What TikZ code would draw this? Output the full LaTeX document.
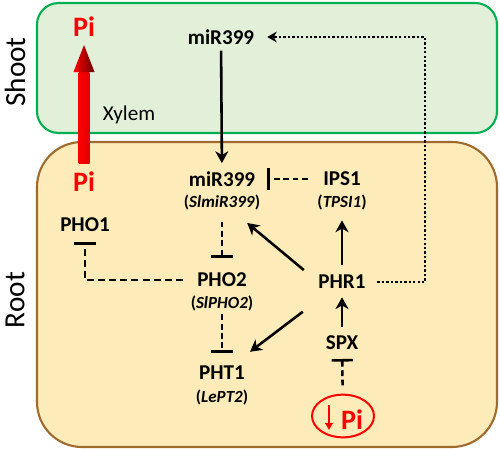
\documentclass[tikz,border=0pt]{standalone}
\usepackage{fontspec}
\setmainfont{Carlito}
\usetikzlibrary{arrows.meta,shapes.geometric,calc}
\definecolor{shootfill}{HTML}{E2F0D9}
\definecolor{shootline}{HTML}{00B050}
\definecolor{rootfill}{HTML}{FEEBBA}
\definecolor{rootline}{HTML}{9E6B2E}
\begin{document}
\begin{tikzpicture}[x=0.03cm,y=-0.03cm,
    lbl/.style={font=\fontsize{18}{20}\selectfont\bfseries, inner sep=0pt},
    sub/.style={font=\fontsize{14.5}{16}\selectfont\bfseries, inner sep=0pt},
    phos/.style={font=\fontsize{24}{26}\selectfont\bfseries, text=red, inner sep=0pt},
    organ/.style={font=\fontsize{25}{28}\selectfont, rotate=90, inner sep=0pt},
    act/.style={line width=2.2pt, -{Stealth[length=10pt,width=11pt,inset=3pt]}},
    inh/.style={line width=2.2pt, dash pattern=on 5pt off 3pt, -{Bar[width=18pt]}},
    mv/.style={line width=2.4pt, dash pattern=on 2pt off 1.8pt, -{Stealth[length=8pt,width=9pt,inset=2.5pt]}}]
    \useasboundingbox (0,0) rectangle (500,449);
    \draw[shootline, fill=shootfill, line width=1.8pt, rounded corners=0.65cm] (37,3) rectangle (497,133);
    \draw[rootline, fill=rootfill, line width=1.8pt, rounded corners=1.35cm] (37,142) rectangle (497,447);
    \node[organ] (shoot) at (15,72) {Shoot};
    \node[organ] (root) at (15,300) {Root};

    \coordinate (xylB) at (84,163);
    \coordinate (xylT) at (84,45);
    \shade[left color=red, right color=red!88!black] ($(xylB)+(-5.5,0)$) rectangle ($(xylT)+(5.5,27)$);
    \shade[left color=red, right color=red!40!black] ($(xylT)+(-10.5,27)$) -- (xylT) -- ($(xylT)+(10.5,27)$) -- cycle;
    \node[phos] (piT) at (84,27) {Pi};
    \node[phos] (piB) at (84,182) {Pi};
    \node[font=\fontsize{18}{20}\selectfont, inner sep=0pt] (xyl) at (129,115) {Xylem};

    \node[lbl] (mirS) at (221,37) {miR399};
    \node[lbl] (mirR) at (222,179) {miR399};
    \node[sub] (mirRs) at (222,202) {(\textit{SlmiR399})};
    \node[lbl] (ips) at (342,179) {IPS1};
    \node[sub] (ipss) at (342,202) {(\textit{TPSI1})};
    \node[lbl] (pho1) at (85,225) {PHO1};
    \node[lbl] (pho2) at (222,280) {PHO2};
    \node[sub] (pho2s) at (222,303) {(\textit{SlPHO2})};
    \node[lbl] (phr) at (342,282) {PHR1};
    \node[lbl] (pht) at (222,373) {PHT1};
    \node[sub] (phts) at (222,397) {(\textit{LePT2})};
    \node[lbl] (spx) at (342,343) {SPX};
    \node[ellipse, draw=red, line width=1.7pt, minimum width=1.86cm, minimum height=1.28cm, inner sep=0pt] (pilow) at (343,416) {};
    \node[phos] (pilowt) at (352,420) {Pi};
    \draw[red, line width=1.6pt, -{Triangle[length=6pt,width=6.5pt]}] ($(pilow.center)+(-14,-11)$) -- ($(pilow.center)+(-14,14)$);

    \draw[act, shorten <=5pt, shorten >=7pt] (mirS) -- (mirR);
    \draw[inh, shorten <=13pt, shorten >=10pt] (ips) -- (mirR);
    \draw[inh, shorten <=10pt, shorten >=13pt] (mirRs) -- (pho2);
    \draw[inh, shorten <=3pt, shorten >=11pt] (pho2s) -- (pht);
    \draw[inh, dash pattern=on 6pt off 3.5pt, shorten <=12pt, shorten >=8.5pt] (pho2.west) -| (pho1.south);
    \draw[act, shorten <=16pt, shorten >=28pt] (phr.west) -- (mirRs.center);
    \draw[act, shorten <=42pt, shorten >=30pt] (phr.center) -- (pht.center);
    \draw[act, shorten <=8.5pt, shorten >=9pt] (phr) -- (ipss);
    \draw[act, shorten <=7.5pt, shorten >=7pt] (spx) -- (phr);
    \draw[inh, shorten <=7pt, shorten >=7.5pt] (pilow) -- (spx);
    \coordinate (turn) at (425,37);
    \draw[mv, shorten <=10pt, shorten >=11pt] (phr.east) -| (turn) -- (mirS.east);
\end{tikzpicture}
\end{document}
